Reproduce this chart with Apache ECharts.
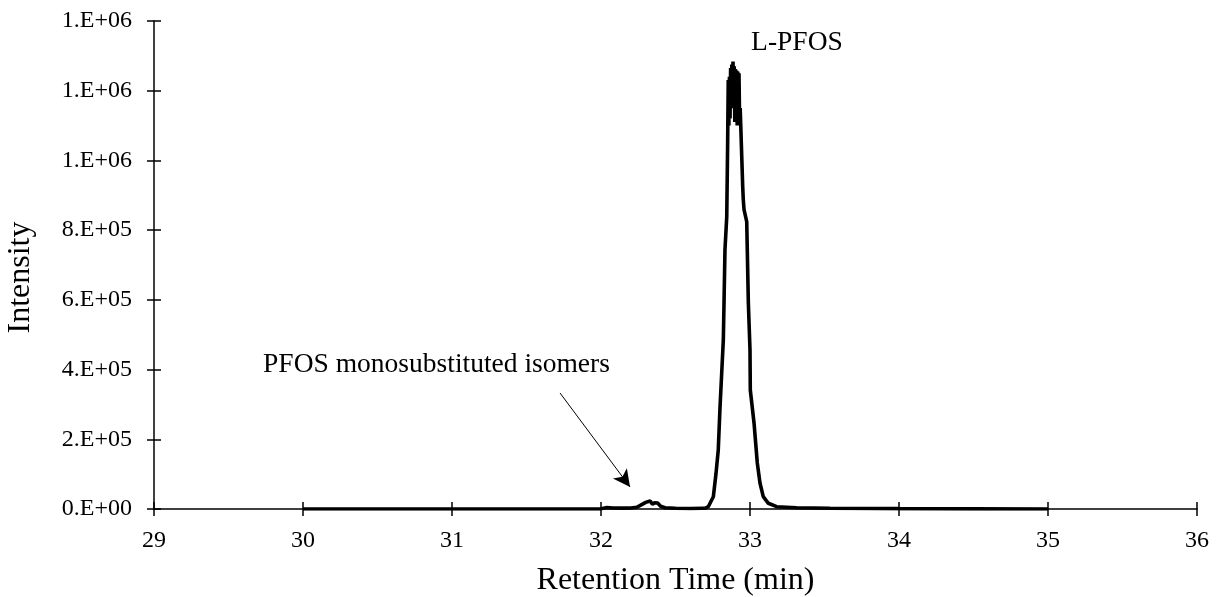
<!DOCTYPE html>
<html>
<head>
<meta charset="utf-8">
<script src="https://cdn.jsdelivr.net/npm/echarts@6/dist/echarts.min.js"></script>
<style>
  html, body { margin: 0; padding: 0; background: #fff; }
  #chart { width: 1217px; height: 597px; }
</style>
</head>
<body>
<div id="chart"></div>
<script>
// retention time (min) and intensity
var times = [
  30.0, 30.5, 31.0, 31.5, 31.9, 32.0, 32.04, 32.08, 32.15, 32.2,
  32.24, 32.27, 32.3, 32.33, 32.345, 32.36, 32.38, 32.4, 32.43, 32.5,
  32.6, 32.68, 32.698, 32.72, 32.754, 32.772, 32.787, 32.799, 32.81, 32.821,
  32.826, 32.832, 32.844, 32.85, 32.854, 32.858, 32.862, 32.866, 32.87, 32.874,
  32.878, 32.882, 32.886, 32.89, 32.894, 32.898, 32.902, 32.906, 32.91, 32.914,
  32.918, 32.922, 32.926, 32.93, 32.934, 32.938, 32.944, 32.951, 32.955, 32.96,
  32.978, 32.989, 32.995, 33.0, 33.002, 33.027, 33.049, 33.067, 33.089, 33.123,
  33.179, 33.313, 33.537, 33.8, 34.0, 34.5, 35.0
];
var intensity = [
  0, 0, 0, 0, 0, 500, 4000, 3000, 2500, 3000,
  5000, 12000, 19000, 23000, 14000, 18000, 17000, 8000, 3500, 2000,
  1500, 2000, 2000, 6600, 35300, 102400, 169300, 293500, 389400, 485000,
  600000, 743200, 838700, 1050200, 1231000, 1100000, 1240000, 1120000, 1265000, 1150000,
  1275000, 1200000, 1283500, 1180000, 1270000, 1110000, 1262000, 1120000, 1258000, 1100000,
  1255000, 1110000, 1250000, 1120000, 1150000, 1100000, 1097000, 924800, 886600, 858600,
  824400, 590200, 585400, 456200, 341500, 246800, 132000, 74600, 35300, 16400,
  6600, 3700, 2000, 1500, 1000, 500, 0
];
// excel style tick labels, one per 2.E+05 step
var yTickLabels = ["0.E+00", "2.E+05", "4.E+05", "6.E+05", "8.E+05", "1.E+06", "1.E+06", "1.E+06"];

// annotations [time, intensity]
var lpfosLabelAt = [33.315, 1337000];
var isomerLabelAt = [30.896, 413200];
var arrowFrom = [31.725, 332800];
var arrowTo = [32.195, 63100];

var seriesData = [];
for (var i = 0; i < times.length; i++) {
  seriesData.push([times[i], intensity[i]]);
}

var font = "Liberation Serif, Times New Roman, serif";
var chart = echarts.init(document.getElementById("chart"));

var option = {
  animation: false,
  backgroundColor: "#fff",
  grid: { left: 154, right: 20, top: 21, bottom: 88, outerBoundsMode: "none" },
  xAxis: [
    {
      type: "value",
      min: 29,
      max: 36,
      interval: 1,
      name: "Retention Time (min)",
      nameLocation: "middle",
      nameGap: 56,
      nameTextStyle: { fontFamily: font, fontSize: 32, color: "#000" },
      axisLine: { show: true, onZero: false, lineStyle: { color: "#000", width: 1.5 } },
      axisTick: { show: true, length: 7, lineStyle: { color: "#000", width: 1.5 } },
      axisLabel: { fontFamily: font, fontSize: 24, color: "#000", margin: 20 },
      splitLine: { show: false },
    },
    {
      // inner half of the crossing ticks
      type: "value",
      position: "bottom",
      min: 29,
      max: 36,
      interval: 1,
      axisLine: { show: false },
      axisTick: { show: true, inside: true, length: 7, lineStyle: { color: "#000", width: 1.5 } },
      axisLabel: { show: false },
      splitLine: { show: false },
    },
  ],
  yAxis: [
    {
      type: "value",
      min: 0,
      max: 1400000,
      interval: 200000,
      name: "Intensity",
      nameLocation: "middle",
      nameGap: 117,
      nameTextStyle: { fontFamily: font, fontSize: 32, color: "#000", padding: [0, 25, 0, 0] },
      axisLine: { show: true, onZero: false, lineStyle: { color: "#000", width: 1.5 } },
      axisTick: { show: true, length: 7, lineStyle: { color: "#000", width: 1.5 } },
      axisLabel: {
        fontFamily: font,
        fontSize: 24,
        color: "#000",
        margin: 22,
        formatter: function (value) {
          return yTickLabels[Math.round(value / 200000)];
        },
      },
      splitLine: { show: false },
    },
    {
      type: "value",
      position: "left",
      min: 0,
      max: 1400000,
      interval: 200000,
      axisLine: { show: false },
      axisTick: { show: true, inside: true, length: 7, lineStyle: { color: "#000", width: 1.5 } },
      axisLabel: { show: false },
      splitLine: { show: false },
    },
  ],
  series: [
    {
      type: "line",
      data: seriesData,
      showSymbol: false,
      lineStyle: { color: "#000", width: 3.6 },
      z: 3,
      markLine: {
        silent: true,
        symbol: ["none", "arrow"],
        symbolSize: [13, 17],
        label: { show: false },
        lineStyle: { color: "#000", width: 1, type: "solid" },
        data: [[{ coord: arrowFrom }, { coord: arrowTo }]],
      },
      markPoint: {
        silent: true,
        symbol: "circle",
        symbolSize: 1,
        itemStyle: { color: "rgba(0,0,0,0)" },
        label: { show: true, position: "inside", fontFamily: font, fontSize: 27.5, color: "#000" },
        data: [
          { coord: lpfosLabelAt, label: { formatter: "L-PFOS" } },
          { coord: isomerLabelAt, label: { formatter: "PFOS monosubstituted isomers" } },
        ],
      },
    },
  ],
};

chart.setOption(option);
</script>
</body>
</html>
